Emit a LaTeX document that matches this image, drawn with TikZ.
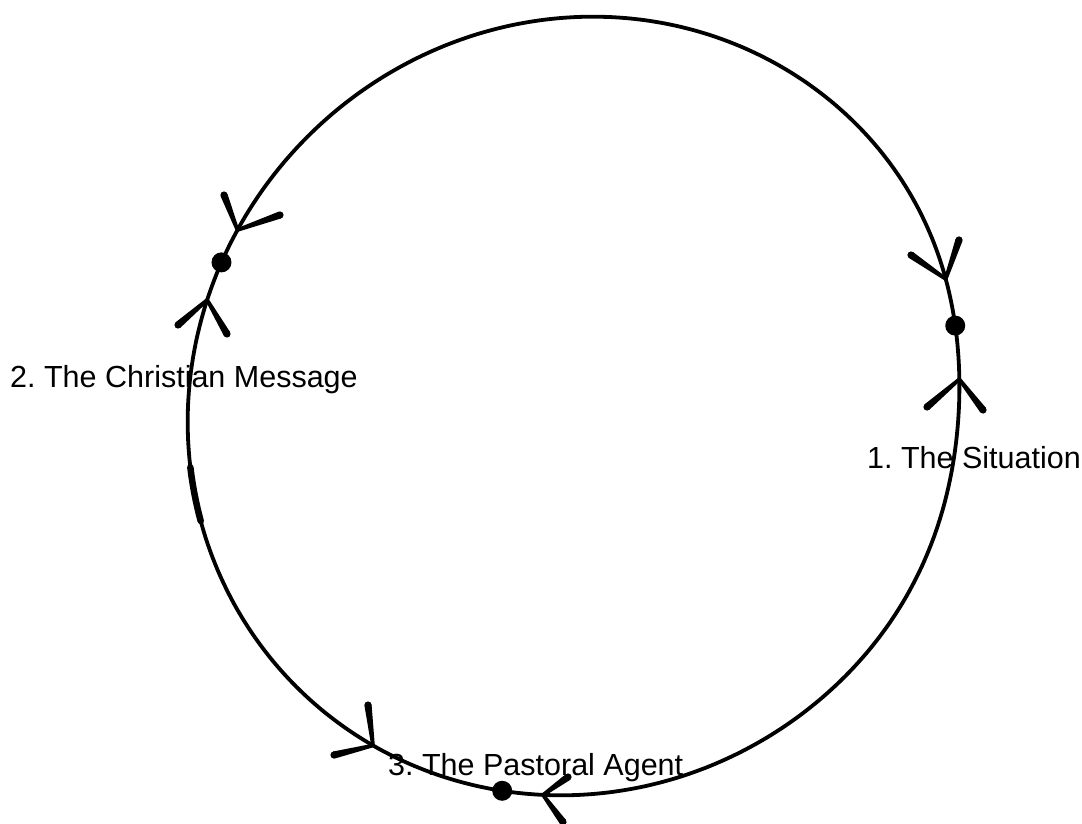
\documentclass[tikz,border=0pt]{standalone}
\usepackage{fontspec}
\setmainfont{Liberation Sans}
\usetikzlibrary{calc}
\newcommand\barb[2]{%
  \fill ($(#1)!1.8pt!90:(#2)$) -- ($(#2)!3.6pt!-90:(#1)$) -- ($(#2)!3.6pt!90:(#1)$) -- ($(#1)!1.8pt!-90:(#2)$) -- cycle;
  \fill (#2) circle (3.6pt);}
\begin{document}
\frenchspacing
\begin{tikzpicture}[x=1pt,y=-1pt,
  declare function={rr(\t)=389+8*cos(2*(\t+45))-7*exp(-(\t/25)*(\t/25));},
  ring/.style={line width=3.8pt, line join=round},
  spot/.style={circle, fill=black, inner sep=0pt, minimum size=20pt},
  lbl/.style={font=\fontsize{30.5}{36}\selectfont, anchor=base west, inner sep=0pt}]
\useasboundingbox (0,0) rectangle (1082,824);
% the cycle
\draw[ring] plot[smooth cycle, domain=-180:177.5, samples=144, variable=\t]
  ({577+rr(\t)*cos(\t)},{406+rr(\t)*sin(\t)});
% thicker stroke on the left
\draw[line width=6.5pt, line cap=round] plot[smooth, domain=163:171, samples=9, variable=\t]
  ({577+rr(\t)*cos(\t)},{406+rr(\t)*sin(\t)});
% points on the cycle
\node[spot] (s1) at ([shift={(577,406)}] -12:{rr(-12)}) {};
\node[spot] (s2) at ([shift={(577,406)}] -158:{rr(-158)}) {};
\node[spot] (s3) at ([shift={(577,406)}] 101:{rr(101)}) {};
% arrowheads
\coordinate (a1) at ([shift={(577,406)}] -152.6:{rr(-152.6)});
\coordinate (a2) at ([shift={(577,406)}] -164:{rr(-164)});
\coordinate (a3) at ([shift={(577,406)}] -19:{rr(-19)});
\coordinate (a4) at ([shift={(577,406)}] -4:{rr(-4)});
\coordinate (a5) at ([shift={(577,406)}] 121:{rr(121)});
\coordinate (a6) at ([shift={(577,406)}] 95:{rr(95)});
\coordinate (a1l) at (224,195); \coordinate (a1r) at (280,215);
\coordinate (a2l) at (178,325); \coordinate (a2r) at (227,334);
\coordinate (a3l) at (911,255); \coordinate (a3r) at (959,240);
\coordinate (a4l) at (927,407); \coordinate (a4r) at (983,410);
\coordinate (a5l) at (368,705); \coordinate (a5r) at (334,755);
\coordinate (a6l) at (568,777); \coordinate (a6r) at (563,822);
\barb{a1}{a1l}\barb{a1}{a1r}
\barb{a2}{a2l}\barb{a2}{a2r}
\barb{a3}{a3l}\barb{a3}{a3r}
\barb{a4}{a4l}\barb{a4}{a4r}
\barb{a5}{a5l}\barb{a5}{a5r}
\barb{a6}{a6l}\barb{a6}{a6r}
% labels
\node[lbl] (t1) at (867,468) {1. The Situation};
\node[lbl] (t2) at (10,387) {2. The Christian Message};
\node[lbl] (t3) at (388,775) {3. The Pastoral Agent};
\end{tikzpicture}
\end{document}
